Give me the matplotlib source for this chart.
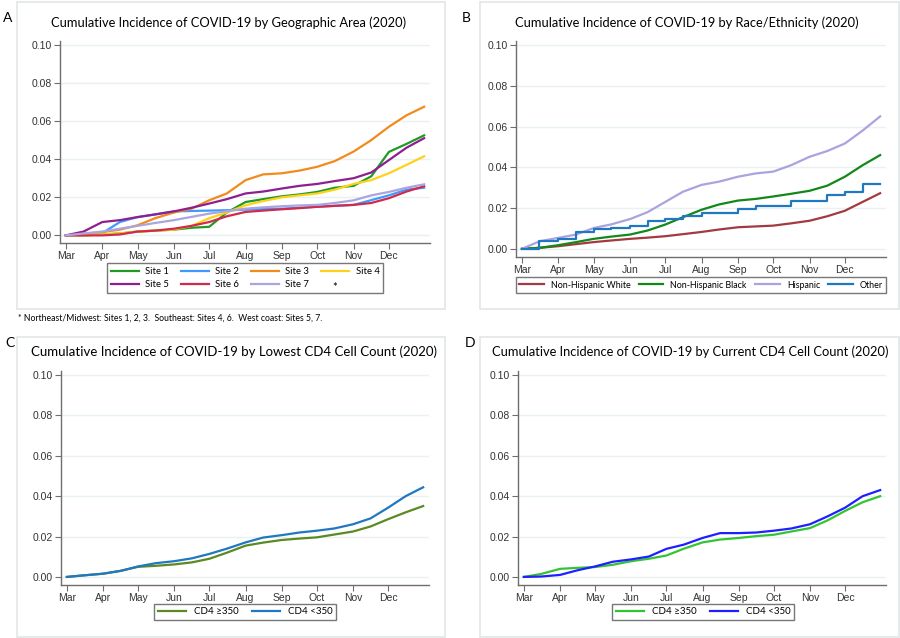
import matplotlib
matplotlib.use("Agg")
from matplotlib import pyplot as plt
from matplotlib.patches import Rectangle

# days since 1 Mar 2020, used as x for all curves
days = [0, 15, 31, 46, 61, 76, 92, 107, 122, 137, 153, 168, 184, 199, 214, 229, 245, 260, 275, 290, 305]
month_days = [0, 31, 61, 92, 122, 153, 184, 214, 245, 275]
month_labels = ["Mar", "Apr", "May", "Jun", "Jul", "Aug", "Sep", "Oct", "Nov", "Dec"]
y_ticks = [0.00, 0.02, 0.04, 0.06, 0.08, 0.10]

# Panel A: geographic area
site1 = [0, 0, 0.0005, 0.001, 0.002, 0.0025, 0.003, 0.004, 0.0045, 0.012, 0.0175, 0.019, 0.0205, 0.0215, 0.0228, 0.025, 0.026, 0.031, 0.0438, 0.048, 0.0525]
site2 = [0, 0.0005, 0.0012, 0.007, 0.0096, 0.011, 0.0126, 0.0128, 0.013, 0.0132, 0.0135, 0.0138, 0.014, 0.0145, 0.015, 0.0155, 0.016, 0.0185, 0.021, 0.024, 0.025]
site3 = [0, 0.0008, 0.0017, 0.003, 0.0053, 0.009, 0.012, 0.014, 0.0184, 0.022, 0.029, 0.032, 0.0326, 0.034, 0.036, 0.039, 0.044, 0.050, 0.057, 0.063, 0.0675]
site4 = [0, 0, 0.0005, 0.001, 0.002, 0.0025, 0.003, 0.005, 0.009, 0.012, 0.0158, 0.018, 0.020, 0.021, 0.022, 0.024, 0.027, 0.029, 0.0326, 0.037, 0.0415]
site5 = [0, 0.002, 0.007, 0.008, 0.0096, 0.011, 0.0126, 0.0145, 0.0167, 0.019, 0.022, 0.023, 0.0246, 0.026, 0.027, 0.0285, 0.030, 0.033, 0.0395, 0.046, 0.051]
site6 = [0, 0, 0, 0.0005, 0.002, 0.0025, 0.0035, 0.005, 0.007, 0.010, 0.0123, 0.013, 0.0137, 0.0143, 0.015, 0.0155, 0.016, 0.017, 0.0195, 0.023, 0.0258]
site7 = [0, 0.001, 0.002, 0.0035, 0.005, 0.0065, 0.008, 0.0097, 0.0114, 0.0127, 0.014, 0.0147, 0.0153, 0.0157, 0.016, 0.017, 0.0184, 0.021, 0.0228, 0.025, 0.0268]

# Panel B: race/ethnicity
nh_white = [0, 0.0005, 0.0013, 0.0023, 0.0033, 0.0041, 0.0049, 0.0055, 0.0062, 0.0072, 0.0083, 0.0095, 0.0106, 0.011, 0.0114, 0.0125, 0.0138, 0.016, 0.0187, 0.023, 0.0273]
nh_black = [0, 0.0005, 0.0018, 0.0033, 0.0049, 0.006, 0.007, 0.009, 0.0119, 0.0155, 0.0192, 0.0218, 0.0237, 0.0245, 0.0257, 0.027, 0.0285, 0.031, 0.0354, 0.041, 0.046]
hispanic = [0, 0.0037, 0.0054, 0.007, 0.0102, 0.012, 0.0146, 0.018, 0.023, 0.028, 0.0314, 0.033, 0.0354, 0.037, 0.0379, 0.041, 0.0452, 0.048, 0.0517, 0.058, 0.065]
other = [0, 0.0037, 0.0049, 0.0085, 0.0098, 0.010, 0.011, 0.0135, 0.0146, 0.016, 0.0176, 0.0176, 0.0195, 0.0208, 0.0208, 0.0233, 0.0233, 0.0265, 0.0281, 0.0319, 0.0319]

# Panel C: lowest CD4
low_hi = [0, 0.0008, 0.0016, 0.003, 0.005, 0.0055, 0.0062, 0.0072, 0.009, 0.012, 0.0155, 0.017, 0.0183, 0.019, 0.0196, 0.021, 0.0225, 0.025, 0.0286, 0.032, 0.0351]
low_lo = [0, 0.0008, 0.0016, 0.003, 0.0052, 0.0068, 0.0078, 0.0092, 0.0114, 0.014, 0.0171, 0.0195, 0.0207, 0.022, 0.0229, 0.024, 0.0261, 0.029, 0.0343, 0.040, 0.0444]

# Panel D: current CD4
cur_hi = [0, 0.0015, 0.004, 0.0045, 0.0049, 0.006, 0.0078, 0.009, 0.0106, 0.014, 0.0171, 0.0185, 0.0193, 0.0202, 0.0209, 0.0225, 0.0242, 0.028, 0.0327, 0.037, 0.040]
cur_lo = [0, 0.0002, 0.001, 0.0033, 0.0052, 0.0075, 0.0087, 0.0101, 0.0139, 0.016, 0.0193, 0.0217, 0.0217, 0.022, 0.0229, 0.024, 0.0261, 0.030, 0.0343, 0.040, 0.043]

W, H = 900, 638
plt.rcParams['font.family'] = ['Lato', 'DejaVu Sans']

fig = plt.figure(figsize=(9, 6.38), dpi=100)
fig.patch.set_facecolor("white")


def px_axes(left, top, right, bottom):
    return fig.add_axes([left / W, 1 - bottom / H, (right - left) / W, (bottom - top) / H])


def frame(left, top, right, bottom):
    r = Rectangle((left / W, 1 - bottom / H), (right - left) / W, (bottom - top) / H,
                  transform=fig.transFigure, fill=False, edgecolor="#e3e6e8", linewidth=1.2)
    fig.patches.append(r)


def style(ax):
    ax.set_xlim(-5, 310)
    ax.set_ylim(-0.004, 0.102)
    ax.set_xticks(month_days)
    ax.set_xticklabels(month_labels)
    ax.set_yticks(y_ticks)
    ax.set_yticklabels(["%.2f" % v for v in y_ticks])
    for s in ["top", "right"]:
        ax.spines[s].set_visible(False)
    for s in ["left", "bottom"]:
        ax.spines[s].set_color("#6e6e6e")
        ax.spines[s].set_linewidth(1.0)
    ax.tick_params(direction="out", length=4, width=0.8, color="#6e6e6e",
                   labelsize=7.5, labelcolor="#333333", pad=2)
    for lab in ax.get_xticklabels() + ax.get_yticklabels():
        lab.set_family("Liberation Sans")
    ax.grid(axis="y", color="#e9f1f3", linewidth=1.0)
    ax.set_axisbelow(True)


def legend(ax, handles, ncol, cx, cy, size=7, hl=2.9, tp=0.8, cs=1.4, pad=0.4, **kw):
    lg = ax.legend(handles=handles, ncol=ncol, loc="center", bbox_to_anchor=(cx / W, 1 - cy / H),
                   bbox_transform=fig.transFigure, fontsize=size, frameon=True,
                   fancybox=False, edgecolor="#555555", handlelength=hl,
                   handletextpad=tp, borderpad=pad, columnspacing=cs, **kw)
    lg.get_frame().set_linewidth(1.0)
    return lg


# panel frames
frame(17, 2, 445, 309)
frame(480, 2, 899, 309)
frame(17, 337, 445, 637)
frame(480, 337, 899, 637)

# ---- A
axA = px_axes(60, 41, 430, 243)
linesA = []
for vals, col, lab in [(site1, "#1f9a26", "Site 1"), (site2, "#3d9bff", "Site 2"),
                       (site3, "#f28a1c", "Site 3"), (site4, "#ffd21a", "Site 4"),
                       (site5, "#8e1f8e", "Site 5"), (site6, "#d22a4a", "Site 6"),
                       (site7, "#aaa5df", "Site 7")]:
    ln, = axA.plot(days, vals, color=col, linewidth=1.6, label=lab)
    linesA.append(ln)
blank, = axA.plot([], [], color="none", label=" ")
style(axA)
# legend fills column-wise, so interleave to get row order Site 1..4 / Site 5..7
orderA = [linesA[0], linesA[4], linesA[1], linesA[5], linesA[2], linesA[6], linesA[3], blank]
legend(axA, orderA, 4, 245, 278, size=6.8, hl=3.0, tp=0.65, cs=1.25, labelspacing=0.45)
fig.text(335 / W, 1 - 287 / H, "*", fontsize=8, ha="center", va="center")
fig.text(229 / W, 1 - 23 / H, "Cumulative Incidence of COVID-19 by Geographic Area (2020)",
         ha="center", va="center", fontsize=9.3)
fig.text(3 / W, 1 - 18 / H, "A", fontsize=10, va="center")
fig.text(18 / W, 1 - 318 / H,
         "* Northeast/Midwest: Sites 1, 2, 3.  Southeast: Sites 4, 6.  West coast: Sites 5, 7.",
         fontsize=6.2, va="center")

# ---- B
axB = px_axes(516, 41, 886, 257)
linesB = []
for vals, col, lab in [(nh_white, "#a33a40", "Non-Hispanic White"), (nh_black, "#13881a", "Non-Hispanic Black"),
                       (hispanic, "#aaa3e0", "Hispanic")]:
    ln, = axB.plot(days, vals, color=col, linewidth=1.6, label=lab)
    linesB.append(ln)
ln, = axB.step(days, other, where="post", color="#1f78c0", linewidth=1.6, label="Other")
linesB.append(ln)
style(axB)
legend(axB, linesB, 4, 701, 285, size=6.4, hl=2.8, tp=0.8, cs=0.9, pad=0.35)
fig.text(687 / W, 1 - 23 / H, "Cumulative Incidence of COVID-19 by Race/Ethnicity (2020)",
         ha="center", va="center", fontsize=9.3)
fig.text(462 / W, 1 - 18 / H, "B", fontsize=10, va="center")

# ---- C
axC = px_axes(61, 371, 429, 585)
c1, = axC.plot(days, low_hi, color="#5b8a22", linewidth=1.6, label="CD4 \u2265350")
c2, = axC.plot(days, low_lo, color="#1f78c0", linewidth=1.6, label="CD4 <350")
style(axC)
legend(axC, [c1, c2], 2, 245, 612, pad=0.35)
fig.text(234 / W, 1 - 352 / H, "Cumulative Incidence of COVID-19 by Lowest CD4 Cell Count (2020)",
         ha="center", va="center", fontsize=9.5)
fig.text(5 / W, 1 - 343 / H, "C", fontsize=10, va="center")

# ---- D
axD = px_axes(518, 371, 886, 585)
d1, = axD.plot(days, cur_hi, color="#33c433", linewidth=1.6, label="CD4 \u2265350")
d2, = axD.plot(days, cur_lo, color="#1f1fff", linewidth=1.6, label="CD4 <350")
style(axD)
legend(axD, [d1, d2], 2, 703, 612, pad=0.35)
fig.text(690 / W, 1 - 352 / H, "Cumulative Incidence of COVID-19 by Current CD4 Cell Count (2020)",
         ha="center", va="center", fontsize=9.3)
fig.text(465 / W, 1 - 343 / H, "D", fontsize=10, va="center")

fig.savefig("out.png", dpi=100, facecolor="white")
